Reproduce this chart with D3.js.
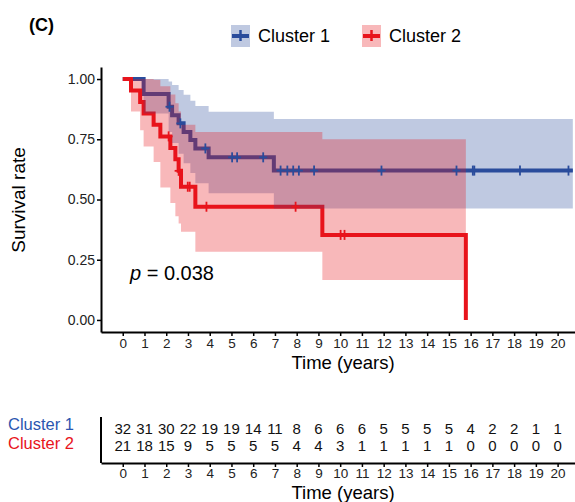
<!DOCTYPE html>
<html>
<head>
<meta charset="utf-8">
<script src="https://cdn.jsdelivr.net/npm/d3@7"></script>
<style>
  body { margin: 0; background: #fff; }
  svg { display: block; font-family: "Liberation Sans", Arial, sans-serif; }
</style>
</head>
<body>
<svg id="chart" width="575" height="502"></svg>
<script>
// Kaplan-Meier steps
const blueTime  = [0, 0.96, 2.11, 2.27, 2.57, 2.80, 3.11, 3.34, 3.95, 6.95];
const blueSurv  = [1, 0.9375, 0.885, 0.85, 0.816, 0.78, 0.747, 0.712, 0.675, 0.62];
const blueUpper = [1, 1, 0.99, 0.975, 0.955, 0.935, 0.91, 0.888, 0.864, 0.834];
const blueLower = [1, 0.857, 0.78, 0.735, 0.69, 0.65, 0.61, 0.567, 0.526, 0.463];
const blueEnd = 20.7;
const blueCensor = [2.15, 2.65, 3.8, 5.03, 5.26, 6.46, 7.26, 7.57, 7.84, 8.1, 8.8, 11.9, 15.35, 16.1, 16.17, 18.27, 20.5];

const redTime  = [0, 0.38, 0.80, 0.96, 1.42, 1.73, 2.19, 2.42, 2.57, 2.68, 3.34, 9.18, 15.78];
const redSurv  = [1, 0.952, 0.905, 0.857, 0.810, 0.762, 0.714, 0.667, 0.619, 0.553, 0.47, 0.353, 0];
const redUpper = [1, 1, 1, 1, 0.997, 0.97, 0.936, 0.9, 0.865, 0.81, 0.78, 0.75];
const redLower = [1, 0.865, 0.787, 0.72, 0.656, 0.55, 0.485, 0.43, 0.40, 0.366, 0.283, 0.166];
const redCensor = [2.11, 2.57, 2.99, 3.08, 3.85, 7.95, 10.02, 10.2];

// numbers at risk
const riskTimes = d3.range(0, 21);
const blueRisk = [32, 31, 30, 22, 19, 19, 14, 11, 8, 6, 6, 6, 5, 5, 5, 5, 4, 2, 2, 1, 1];
const redRisk  = [21, 18, 15, 9, 5, 5, 5, 5, 4, 4, 3, 1, 1, 1, 1, 1, 0, 0, 0, 0, 0];

const yTicks = [0, 0.25, 0.5, 0.75, 1];
const groups = ['Cluster 1', 'Cluster 2'];
const blue = '#2a4c9c';
const red = '#e8141c';

const svg = d3.select('#chart');

const x = d3.scaleLinear().domain([-1, 20.8]).range([101, 575]);
const y = d3.scaleLinear().domain([-0.05, 1.05]).range([332, 67]);

function stepAt(times, vals, t) {
    let v = vals[0];
    for (let i = 0; i < times.length; i++) if (times[i] <= t) v = vals[i];
    return v;
}

const lineGen = d3.line().x(d => x(d[0])).y(d => y(d[1])).curve(d3.curveStepAfter);
const areaGen = d3.area().x(d => x(d[0])).y0(d => y(d[1])).y1(d => y(d[2])).curve(d3.curveStepAfter);

const blueLine = blueTime.map((t, i) => [t, blueSurv[i]]).concat([[blueEnd, blueSurv[blueSurv.length - 1]]]);
const redLine = redTime.map((t, i) => [t, redSurv[i]]);
const blueBand = blueTime.map((t, i) => [t, blueLower[i], blueUpper[i]])
    .concat([[blueEnd, blueLower[blueLower.length - 1], blueUpper[blueUpper.length - 1]]]);
const redBand = redLower.map((l, i) => [redTime[i], l, redUpper[i]])
    .concat([[redTime[redTime.length - 1], redLower[redLower.length - 1], redUpper[redUpper.length - 1]]]);

// lines first, ribbons on top (as in the original)
svg.append('path').attr('d', lineGen(blueLine)).attr('fill', 'none')
    .attr('stroke', blue).attr('stroke-width', 4);
svg.append('path').attr('d', lineGen(redLine)).attr('fill', 'none')
    .attr('stroke', red).attr('stroke-width', 4);
svg.append('path').attr('d', areaGen(blueBand)).attr('fill', blue).attr('fill-opacity', 0.3);
svg.append('path').attr('d', areaGen(redBand)).attr('fill', red).attr('fill-opacity', 0.3);

// censor marks
function censor(times, vals, list, color) {
    const g = svg.append('g').attr('stroke', color).attr('stroke-width', 1.8);
    list.forEach(t => {
        const cx = x(t), cy = y(stepAt(times, vals, t));
        g.append('line').attr('x1', cx).attr('x2', cx).attr('y1', cy - 5).attr('y2', cy + 5);
        g.append('line').attr('x1', cx - 4).attr('x2', cx + 4).attr('y1', cy).attr('y2', cy);
    });
}
censor(blueTime, blueSurv, blueCensor, blue);
censor(redTime, redSurv, redCensor, red);

// axes
const yAxis = svg.append('g').attr('transform', 'translate(101,0)')
    .call(d3.axisLeft(y).tickValues(yTicks).tickFormat(d3.format('.2f')).tickSize(4).tickSizeOuter(0));
const xAxis = svg.append('g').attr('transform', 'translate(0,332)')
    .call(d3.axisBottom(x).tickValues(riskTimes).tickFormat(d3.format('d')).tickSize(4).tickSizeOuter(0));
[yAxis, xAxis].forEach(a => {
    a.select('.domain').attr('stroke', '#000').attr('stroke-width', 2);
    a.selectAll('.tick line').attr('stroke', '#000').attr('stroke-width', 1.5);
    a.selectAll('.tick text').attr('fill', '#222').style('font-size', '14px')
        .style('font-family', '"Liberation Sans", Arial, sans-serif');
});
yAxis.selectAll('.tick text').attr('x', -6);
xAxis.selectAll('.tick text').attr('y', 6).style('font-size', '13.5px');

svg.append('text').attr('transform', 'translate(25,200) rotate(-90)')
    .attr('text-anchor', 'middle').style('font-size', '19px').text('Survival rate');
svg.append('text').attr('x', 343).attr('y', 369).attr('text-anchor', 'middle')
    .style('font-size', '18.5px').text('Time (years)');

// p value
const pText = svg.append('text').attr('x', 130).attr('y', 280).style('font-size', '20px');
pText.append('tspan').style('font-style', 'italic').text('p');
pText.append('tspan').text(' = 0.038');

// panel letter
svg.append('text').attr('x', 29).attr('y', 31).style('font-size', '18px')
    .style('font-weight', 'bold').text('(C)');

// legend
const legend = svg.append('g');
const legendX = [231, 362];
groups.forEach((name, i) => {
    const color = i === 0 ? blue : red;
    const g = legend.append('g').attr('transform', `translate(${legendX[i]},25)`);
    g.append('rect').attr('width', 19).attr('height', 22).attr('fill', color).attr('fill-opacity', 0.3);
    g.append('line').attr('x1', 1).attr('x2', 18).attr('y1', 11).attr('y2', 11)
        .attr('stroke', color).attr('stroke-width', 4);
    g.append('line').attr('x1', 9.5).attr('x2', 9.5).attr('y1', 5).attr('y2', 16)
        .attr('stroke', color).attr('stroke-width', 2.5);
    g.append('text').attr('x', 27).attr('y', 17).style('font-size', '18px').text(name);
});

// risk table
const risk = svg.append('g');
risk.append('line').attr('x1', 101).attr('x2', 101).attr('y1', 417).attr('y2', 463)
    .attr('stroke', '#000').attr('stroke-width', 2);
const riskAxis = risk.append('g').attr('transform', 'translate(0,463)')
    .call(d3.axisBottom(x).tickValues(riskTimes).tickFormat(d3.format('d')).tickSize(4).tickSizeOuter(0));
riskAxis.select('.domain').attr('stroke', '#000').attr('stroke-width', 2);
riskAxis.selectAll('.tick line').attr('stroke', '#000').attr('stroke-width', 1.5);
riskAxis.selectAll('.tick text').attr('fill', '#222').attr('y', 5).style('font-size', '13.5px')
    .style('font-family', '"Liberation Sans", Arial, sans-serif');

[blueRisk, redRisk].forEach((row, r) => {
    risk.selectAll(null).data(row).enter().append('text')
        .attr('x', (d, i) => x(riskTimes[i]))
        .attr('y', 434 + r * 17)
        .attr('text-anchor', 'middle')
        .style('font-size', '15px')
        .attr('fill', '#111')
        .text(d => d);
    risk.append('text').attr('x', 8).attr('y', 430 + r * 18.5)
        .style('font-size', '16.5px').attr('fill', r === 0 ? '#2a56b0' : red).text(groups[r]);
});
svg.append('text').attr('x', 343).attr('y', 499).attr('text-anchor', 'middle')
    .style('font-size', '18.5px').text('Time (years)');
</script>
</body>
</html>
